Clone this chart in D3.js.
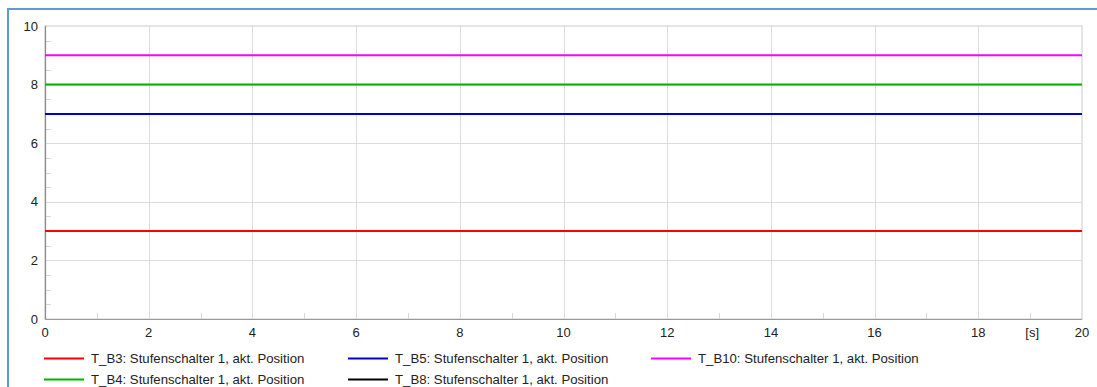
<!DOCTYPE html>
<html><head><meta charset="utf-8">
<script src="https://cdn.jsdelivr.net/npm/d3@7"></script>
<style>
html,body{margin:0;padding:0;background:#fff;overflow:hidden;}
text{font-family:"Liberation Sans",Arial,sans-serif;}
</style></head>
<body><svg id="c" width="1097" height="387"></svg>
<script>
const seriesNames = ["T_B3: Stufenschalter 1, akt. Position","T_B5: Stufenschalter 1, akt. Position","T_B10: Stufenschalter 1, akt. Position","T_B4: Stufenschalter 1, akt. Position","T_B8: Stufenschalter 1, akt. Position"];
const seriesColors = ["#ff0000","#0000cc","#ff00ff","#00b400","#000000"];
const timePoints = [0, 20];
const seriesValues = [[3,3],[7,7],[9,9],[8,8],[null,null]];
const xTicks = [0,2,4,6,8,10,12,14,16,18,20];
const yTicks = [0,2,4,6,8,10];
const xUnit = "[s]";

const svg = d3.select("#c");
const m = {l:45, r:1082, t:26, b:319};
const x = d3.scaleLinear().domain([0,20]).range([m.l,m.r]);
const y = d3.scaleLinear().domain([0,10]).range([m.b,m.t]);

// outer frame
svg.append("rect").attr("x",8).attr("y",9).attr("width",1100).attr("height",400)
  .attr("fill","none").attr("stroke","#5b9bd5").attr("stroke-width",2);

// plot border
svg.append("rect").attr("x",m.l).attr("y",m.t).attr("width",m.r-m.l).attr("height",m.b-m.t)
  .attr("fill","none").attr("stroke","#dcdcdc").attr("stroke-width",1.5);

// grid
const g = svg.append("g");
g.selectAll(".gx").data(xTicks.slice(1,-1)).enter().append("line")
  .attr("x1",d=>Math.round(x(d))+0.5).attr("x2",d=>Math.round(x(d))+0.5)
  .attr("y1",m.t).attr("y2",m.b).attr("stroke","#dddddd");
g.selectAll(".gy").data(yTicks.slice(1,-1)).enter().append("line")
  .attr("y1",d=>Math.round(y(d))+0.5).attr("y2",d=>Math.round(y(d))+0.5)
  .attr("x1",m.l).attr("x2",m.r).attr("stroke","#dddddd");

// minor ticks
const yMinor = d3.range(0.5,10,0.5).filter(v=>v%2!==0);
g.selectAll(".my").data(yMinor).enter().append("line")
  .attr("y1",d=>Math.round(y(d))+0.5).attr("y2",d=>Math.round(y(d))+0.5)
  .attr("x1",m.l).attr("x2",m.l+6).attr("stroke","#d8d8d8");
const xMinor = d3.range(1,20,2);
g.selectAll(".mx").data(xMinor).enter().append("line")
  .attr("x1",d=>Math.round(x(d))+0.5).attr("x2",d=>Math.round(x(d))+0.5)
  .attr("y1",m.b-6).attr("y2",m.b).attr("stroke","#d8d8d8");

// axes lines
svg.append("line").attr("x1",m.l+0.5).attr("x2",m.l+0.5).attr("y1",m.t).attr("y2",m.b+1).attr("stroke","#8a8a8a").attr("stroke-width",1.2);
svg.append("line").attr("x1",m.l).attr("x2",m.r).attr("y1",m.b+0.5).attr("y2",m.b+0.5).attr("stroke","#9a9a9a").attr("stroke-width",1.2);

// tick labels
svg.selectAll(".yl").data(yTicks).enter().append("text")
  .attr("x",m.l-7).attr("y",d=>y(d)+4.5).attr("text-anchor","end")
  .attr("font-size",13).attr("fill","#222").text(d=>d);
svg.selectAll(".xl").data(xTicks).enter().append("text")
  .attr("x",d=>x(d)).attr("y",m.b+18).attr("text-anchor","middle")
  .attr("font-size",13).attr("fill","#222").text(d=>d);
svg.append("text").attr("x",x(19)+2).attr("y",m.b+18).attr("text-anchor","middle")
  .attr("font-size",13).attr("fill","#222").text(xUnit);

// series
const line = d3.line().defined(d=>d[1]!=null).x(d=>x(d[0])).y(d=>y(d[1]));
seriesValues.forEach((vals,i)=>{
  const pts = timePoints.map((t,j)=>[t,vals[j]]);
  svg.append("path").datum(pts).attr("d",line).attr("fill","none")
    .attr("stroke",seriesColors[i]).attr("stroke-width",2);
});

// legend
const colX = [44,348,651];
const rowY = [358,379];
seriesNames.forEach((n,i)=>{
  const col = i<3 ? i : i-3;
  const row = i<3 ? 0 : 1;
  const lg = svg.append("g").attr("transform",`translate(${colX[col]},${rowY[row]})`);
  lg.append("line").attr("x1",0).attr("x2",40).attr("y1",0.5).attr("y2",0.5)
    .attr("stroke",seriesColors[i]).attr("stroke-width",2);
  lg.append("text").attr("x",47).attr("y",5).attr("font-size",13.2).attr("fill","#222").text(n);
});
</script></body></html>
